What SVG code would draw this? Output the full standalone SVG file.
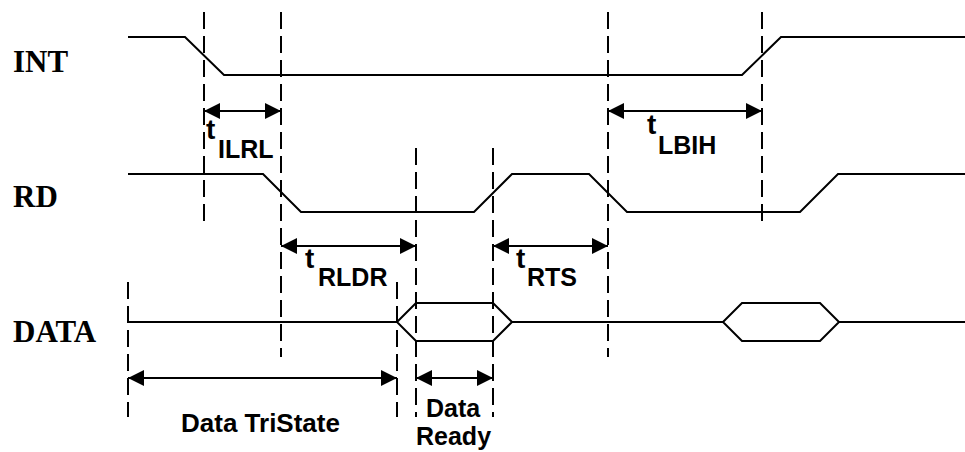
<svg xmlns="http://www.w3.org/2000/svg" width="965" height="452" viewBox="0 0 965 452">
<style>
.sig{fill:none;stroke:#000;stroke-width:2;stroke-linejoin:miter}
.dash{fill:none;stroke:#000;stroke-width:2;stroke-dasharray:17 7}
.arr{fill:none;stroke:#000;stroke-width:2;marker-start:url(#ah);marker-end:url(#ah)}
.name{font-family:"Liberation Serif","Times New Roman",serif;font-weight:bold;font-size:31px;fill:#000}
.lbl{font-family:"Liberation Sans",Arial,sans-serif;font-weight:bold;font-size:25px;fill:#000}
.t{font-family:"Liberation Sans",Arial,sans-serif;font-weight:bold;font-size:28px;fill:#000}
.lbl2{font-family:"Liberation Sans",Arial,sans-serif;font-weight:bold;font-size:26px;fill:#000}
.lbl3{font-family:"Liberation Sans",Arial,sans-serif;font-weight:bold;font-size:25px;fill:#000}
</style>
<defs>
<marker id="ah" viewBox="0 0 16 16" refX="16" refY="8" markerWidth="16" markerHeight="16" markerUnits="userSpaceOnUse" orient="auto-start-reverse">
<path d="M0,0 L16,8 L0,16 Z" fill="#000"/>
</marker>
</defs>
<rect width="965" height="452" fill="#fff"/>
<g id="labels">
<text class="name" x="13" y="72">INT</text>
<text class="name" x="13" y="207">RD</text>
<text class="name" x="13" y="342">DATA</text>
</g>
<g id="signals">
<g id="sig-int"><polyline class="sig" points="128,37 185,37 224,75 742,75 781,37 965,37"/></g>
<g id="sig-rd"><polyline class="sig" points="128,174 263,174 301,212 474,212 512,174 589,174 627,212 800,212 838,174 965,174"/></g>
<g id="sig-data">
<line class="sig" x1="128" y1="322" x2="397" y2="322"/>
<polygon class="sig" points="397,322 416,303 493,303 512,322 493,341 416,341"/>
<line class="sig" x1="512" y1="322" x2="723" y2="322"/>
<polygon class="sig" points="723,322 742,303 820,303 839,322 820,341 742,341"/>
<line class="sig" x1="839" y1="322" x2="965" y2="322"/>
</g>
</g>
<g id="connectors">
<line class="dash" x1="204" y1="12" x2="204" y2="225"/>
<line class="dash" x1="281" y1="12" x2="281" y2="357"/>
<line class="dash" x1="608" y1="12" x2="608" y2="357"/>
<line class="dash" x1="762" y1="12" x2="762" y2="225"/>
<line class="dash" x1="416" y1="148" x2="416" y2="417"/>
<line class="dash" x1="493" y1="148" x2="493" y2="417"/>
<line class="dash" x1="397" y1="282" x2="397" y2="417"/>
<line class="dash" x1="128" y1="282" x2="128" y2="417"/>
<line class="arr" x1="204" y1="111" x2="281" y2="111"/>
<line class="arr" x1="608" y1="111" x2="762" y2="111"/>
<line class="arr" x1="281" y1="246" x2="416" y2="246"/>
<line class="arr" x1="493" y1="246" x2="608" y2="246"/>
<line class="arr" x1="128" y1="378" x2="397" y2="378"/>
<line class="arr" x1="416" y1="378" x2="493" y2="378"/>
</g>
<g id="timing-labels">
<g id="t-ilrl"><text class="t" x="206" y="139">t</text><text class="lbl" x="218" y="158">ILRL</text></g>
<g id="t-lbih"><text class="t" x="647" y="134">t</text><text class="lbl" x="658" y="154">LBIH</text></g>
<g id="t-rldr"><text class="t" x="305" y="268">t</text><text class="lbl" x="318" y="286">RLDR</text></g>
<g id="t-rts"><text class="t" x="516" y="268">t</text><text class="lbl" x="527" y="286">RTS</text></g>
<text class="lbl2" x="181" y="432">Data TriState</text>
<text class="lbl3" x="426" y="417">Data</text>
<text class="lbl3" x="416" y="445">Ready</text>
</g>
</svg>
